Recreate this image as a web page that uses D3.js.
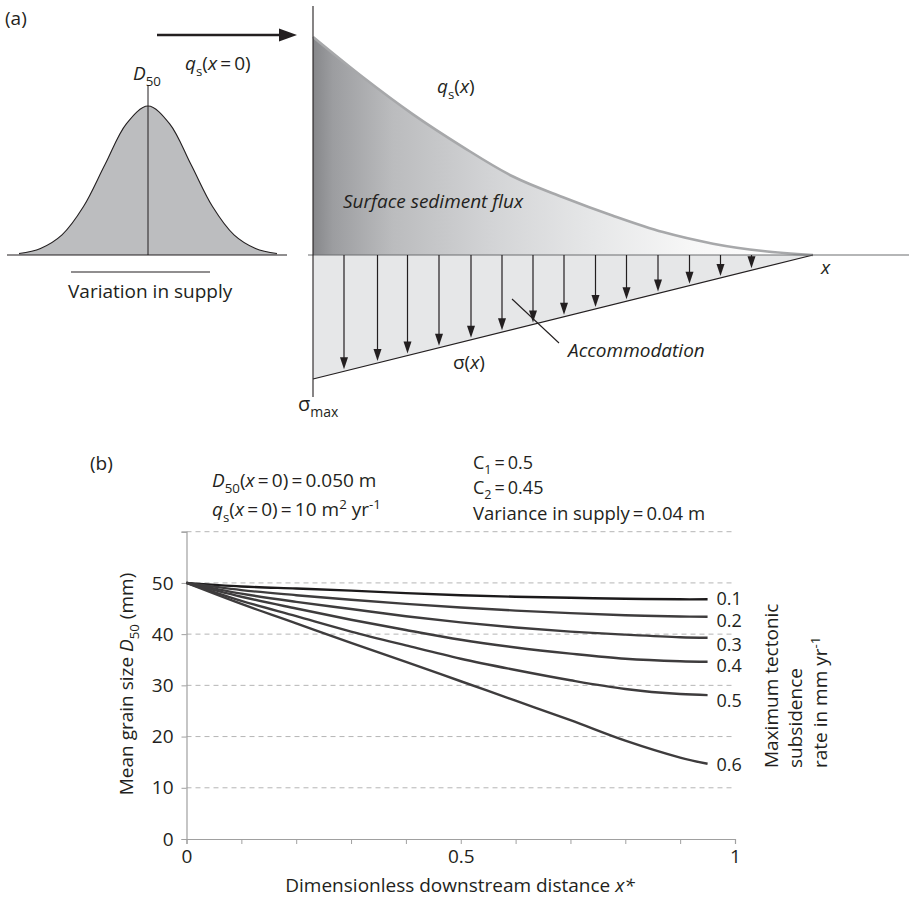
<!DOCTYPE html>
<html>
<head>
<meta charset="utf-8">
<script src="https://cdn.jsdelivr.net/npm/d3@7"></script>
<style>
  body { margin: 0; background: #fff; }
  svg text { font-family: "Open Sans", sans-serif; fill: #231f20; }
</style>
</head>
<body>
<svg id="chart" width="909" height="903"></svg>
<script>
// ---- panel (a): schematic values ----
const bellSigma = [-3, -2.5, -2, -1.5, -1, -0.5, 0, 0.5, 1, 1.5, 2, 2.5, 3];
const bellHeight = [0.01, 0.044, 0.135, 0.325, 0.607, 0.882, 1, 0.882, 0.607, 0.325, 0.135, 0.044, 0.01];

const fluxX = [0, 0.1, 0.2, 0.3, 0.4, 0.5, 0.6, 0.7, 0.8, 0.9, 1];
const fluxQs = [1, 0.815, 0.645, 0.495, 0.36, 0.265, 0.18, 0.105, 0.052, 0.018, 0];

const sigmaX = [0, 1];
const sigmaVal = [1, 0];
const arrowX = [0.062, 0.129, 0.189, 0.252, 0.316, 0.378, 0.44, 0.502, 0.565, 0.627, 0.69, 0.753, 0.815, 0.877];

// ---- panel (b): mean grain size vs dimensionless distance ----
const xStar = [0, 0.1, 0.2, 0.3, 0.4, 0.5, 0.6, 0.7, 0.8, 0.9, 0.95];
const rateLabels = ["0.1", "0.2", "0.3", "0.4", "0.5", "0.6"];
const d50Rate01 = [50, 49.3, 48.9, 48.5, 48.0, 47.6, 47.3, 47.1, 46.9, 46.8, 46.8];
const d50Rate02 = [50, 48.6, 47.6, 46.7, 45.9, 45.2, 44.6, 44.1, 43.7, 43.45, 43.4];
const d50Rate03 = [50, 47.9, 46.3, 44.9, 43.5, 42.3, 41.3, 40.5, 39.9, 39.4, 39.3];
const d50Rate04 = [50, 47.3, 45.0, 42.8, 40.8, 38.9, 37.4, 36.2, 35.2, 34.7, 34.6];
const d50Rate05 = [50, 46.5, 43.5, 40.5, 37.8, 35.2, 33.0, 31.0, 29.3, 28.3, 28.1];
const d50Rate06 = [50, 45.9, 42.1, 38.3, 34.6, 30.8, 27.0, 23.2, 19.2, 15.9, 14.7];
const yTicks = [0, 10, 20, 30, 40, 50, 60];
const xTicks = [0, 0.1, 0.2, 0.3, 0.4, 0.5, 0.6, 0.7, 0.8, 0.9, 1];
const xTickLabels = { 0: "0", 0.5: "0.5", 1: "1" };

const svg = d3.select("#chart");
const ink = "#231f20";
const fs = 19;

// rich text helper: parts are [string, kind] with kind "", "i", "sub", "isub", "sup"
function richText(sel, parts, size) {
  let shift = 0;
  sel.style("font-size", size + "px");
  parts.forEach(([s, k]) => {
    const t = sel.append("tspan").text(s);
    let target = 0;
    if (k.includes("sub")) target = size * 0.3;
    if (k.includes("sup")) target = -size * 0.38;
    if (target - shift !== 0) t.attr("dy", target - shift);
    shift = target;
    if (k.includes("sub") || k.includes("sup")) t.style("font-size", size * 0.7 + "px");
    if (k.startsWith("i")) t.style("font-style", "italic");
  });
  return sel;
}
function label(x, y, parts, size, anchor) {
  const t = svg.append("text").attr("x", x).attr("y", y)
    .attr("text-anchor", anchor || "start");
  return richText(t, parts, size || fs);
}

/**
 * panel (a)
 */
const pa = svg.append("g");

// bell curve of supply
const bx = d3.scaleLinear().domain([-3, 3]).range([19, 277]);
const by = d3.scaleLinear().domain([0, 1]).range([255, 106]);
const bell = bellSigma.map((s, i) => ({ s: s, h: bellHeight[i] }));
pa.append("path")
  .datum(bell)
  .attr("d", d3.area().x((d) => bx(d.s)).y0(by(0)).y1((d) => by(d.h)).curve(d3.curveCatmullRom))
  .attr("fill", "#bcbdbf");
pa.append("path")
  .datum(bell)
  .attr("d", d3.line().x((d) => bx(d.s)).y((d) => by(d.h)).curve(d3.curveCatmullRom))
  .attr("fill", "none").attr("stroke", ink).attr("stroke-width", 1.1);
pa.append("line").attr("x1", 7).attr("x2", 287).attr("y1", by(0)).attr("y2", by(0))
  .attr("stroke", ink).attr("stroke-width", 1.1);
pa.append("line").attr("x1", bx(0)).attr("x2", bx(0)).attr("y1", 85).attr("y2", by(0))
  .attr("stroke", ink).attr("stroke-width", 1);
pa.append("line").attr("x1", 71).attr("x2", 210).attr("y1", 272).attr("y2", 272)
  .attr("stroke", ink).attr("stroke-width", 1.1);

// input arrow
pa.append("line").attr("x1", 157).attr("x2", 283).attr("y1", 35).attr("y2", 35)
  .attr("stroke", ink).attr("stroke-width", 2.4);
pa.append("path").attr("d", "M297,35 L279,28.5 L279,41.5 Z").attr("fill", ink);

// flux and accommodation
const ax = d3.scaleLinear().domain([0, 1]).range([313, 813]);
const ay = d3.scaleLinear().domain([0, 1]).range([255, 37]);
const sy = d3.scaleLinear().domain([0, 1]).range([255, 379]);

const defs = svg.append("defs");
const grad = defs.append("linearGradient").attr("id", "fluxGrad")
  .attr("gradientUnits", "userSpaceOnUse")
  .attr("x1", ax(0)).attr("x2", ax(1)).attr("y1", 0).attr("y2", 0);
[[0, "#86878a"], [0.04, "#9c9da0"], [0.16, "#bbbcbe"], [0.36, "#d3d4d6"],
 [0.56, "#e6e7e8"], [0.76, "#f7f7f7"], [1, "#ffffff"]].forEach(([o, c]) =>
  grad.append("stop").attr("offset", o).attr("stop-color", c));

const flux = fluxX.map((x, i) => ({ x: x, q: fluxQs[i] }));
const sigma = sigmaX.map((x, i) => ({ x: x, s: sigmaVal[i] }));

pa.append("path")
  .datum(sigma)
  .attr("d", d3.area().x((d) => ax(d.x)).y0(sy(0)).y1((d) => sy(d.s)))
  .attr("fill", "#e6e7e8");
pa.append("path")
  .datum(flux)
  .attr("d", d3.area().x((d) => ax(d.x)).y0(ay(0)).y1((d) => ay(d.q)).curve(d3.curveMonotoneX))
  .attr("fill", "url(#fluxGrad)");
pa.append("path")
  .datum(flux)
  .attr("d", d3.line().x((d) => ax(d.x)).y((d) => ay(d.q)).curve(d3.curveMonotoneX))
  .attr("fill", "none").attr("stroke", "#a7a8aa").attr("stroke-width", 2.6);
pa.append("path")
  .datum(sigma)
  .attr("d", d3.line().x((d) => ax(d.x)).y((d) => sy(d.s)))
  .attr("fill", "none").attr("stroke", ink).attr("stroke-width", 1.2);

// axes of the schematic
pa.append("line").attr("x1", 308).attr("x2", 909).attr("y1", 255).attr("y2", 255)
  .attr("stroke", "#6d6e71").attr("stroke-width", 1.2);
pa.append("line").attr("x1", 313).attr("x2", 313).attr("y1", 6).attr("y2", 397)
  .attr("stroke", ink).attr("stroke-width", 1.1);

// subsidence arrows
arrowX.forEach((t) => {
  const x = ax(t);
  const tip = sy(1 - t) - 2;
  pa.append("line").attr("x1", x).attr("x2", x).attr("y1", 255).attr("y2", tip - 8)
    .attr("stroke", ink).attr("stroke-width", 1.2);
  pa.append("path")
    .attr("d", `M${x},${tip} L${x - 4},${tip - 12} L${x + 4},${tip - 12} Z`)
    .attr("fill", ink);
});

// leader line to Accommodation
pa.append("line").attr("x1", 512).attr("x2", 559).attr("y1", 299).attr("y2", 343)
  .attr("stroke", ink).attr("stroke-width", 1.1);

// labels of panel (a)
label(5, 25, [["(a)", ""]]);
label(133, 80, [["D", "i"], ["50", "sub"]]);
label(185, 70, [["q", "i"], ["s", "sub"], ["(", ""], ["x", "i"], ["\u2009=\u20090)", ""]]);
label(68, 298, [["Variation in supply", ""]]);
label(437, 93, [["q", "i"], ["s", "sub"], ["(", ""], ["x", "i"], [")", ""]]);
label(343, 208, [["Surface sediment flux", "i"]]);
label(821, 274, [["x", "i"]]);
label(568, 357, [["Accommodation", "i"]]);
label(453, 369, [["σ(", ""], ["x", "i"], [")", ""]]);
label(298, 411, [["σ", ""], ["max", "sub"]], 20);

/**
 * panel (b)
 */
const pb = svg.append("g");
const xScale = d3.scaleLinear().domain([0, 1]).range([186.5, 735]);
const yScale = d3.scaleLinear().domain([0, 60]).range([839, 531.7]);

// dashed gridlines
pb.selectAll(".grid")
  .data(yTicks.filter((v) => v > 0))
  .enter()
  .append("line")
  .attr("class", "grid")
  .attr("x1", xScale(0)).attr("x2", xScale(1))
  .attr("y1", (d) => yScale(d)).attr("y2", (d) => yScale(d))
  .attr("stroke", "#b5b5b5").attr("stroke-width", 1).attr("stroke-dasharray", "5,4");

const xAxis = d3.axisBottom(xScale).tickValues(xTicks).tickSize(5).tickPadding(6)
  .tickFormat((d) => xTickLabels[d] || "");
const yAxis = d3.axisLeft(yScale).tickValues(yTicks).tickSize(5).tickPadding(8)
  .tickFormat((d) => (d === 60 ? "" : d));

const gx = pb.append("g").attr("transform", `translate(0,${yScale(0)})`).call(xAxis);
const gy = pb.append("g").attr("transform", `translate(${xScale(0)},0)`).call(yAxis);
[gx, gy].forEach((g) => {
  g.selectAll(".domain").attr("stroke", "#a0a0a0").attr("stroke-width", 1.2);
  g.selectAll(".tick line").attr("stroke", "#a0a0a0");
  g.selectAll(".tick text").style("font-family", "'Open Sans', sans-serif")
    .style("font-size", fs + "px").attr("fill", ink);
});

// curves
const series = [d50Rate01, d50Rate02, d50Rate03, d50Rate04, d50Rate05, d50Rate06];
const labelNudge = [-1, 3, 6, 3, 5, 0];
const line = d3.line().x((d) => xScale(d[0])).y((d) => yScale(d[1])).curve(d3.curveCatmullRom);
series.forEach((vals, i) => {
  const pts = xStar.map((x, j) => [x, vals[j]]);
  pb.append("path")
    .datum(pts)
    .attr("d", line)
    .attr("fill", "none")
    .attr("stroke", i === 0 ? "#1c1a1b" : "#3e3c3d")
    .attr("stroke-width", 2.4);
  const last = pts[pts.length - 1];
  label(xScale(last[0]) + 9, yScale(last[1]) + 7 + labelNudge[i], [[rateLabels[i], ""]], 18);
});

// panel (b) annotations
label(90, 470, [["(b)", ""]]);
label(212, 487, [["D", "i"], ["50", "sub"], ["(", ""], ["x", "i"], ["\u2009=\u20090)\u2009=\u20090.050 m", ""]]);
label(212, 516, [["q", "i"], ["s", "sub"], ["(", ""], ["x", "i"], ["\u2009=\u20090)\u2009=\u200910 m", ""],
  ["2", "sup"], [" yr", ""], ["-1", "sup"]]);
label(473, 469, [["C", ""], ["1", "sub"], ["\u2009=\u20090.5", ""]], 18);
label(473, 494, [["C", ""], ["2", "sub"], ["\u2009=\u20090.45", ""]], 18);
label(473, 519.5, [["Variance in supply\u2009=\u20090.04 m", ""]], 18.5);

// axis titles
label(460, 892, [["Dimensionless downstream distance  ", ""], ["x*", "i"]], fs, "middle");
label(0, 0, [["Mean grain size ", ""], ["D", "i"], ["50", "sub"], [" (mm)", ""]], fs, "middle")
  .attr("transform", "translate(133,684) rotate(-90)");
label(0, 0, [["Maximum tectonic", ""]]).attr("transform", "translate(778,768) rotate(-90)");
label(0, 0, [["subsidence", ""]]).attr("transform", "translate(802,768) rotate(-90)");
label(0, 0, [["rate in mm yr", ""], ["-1", "sup"]]).attr("transform", "translate(827,768) rotate(-90)");
</script>
</body>
</html>
